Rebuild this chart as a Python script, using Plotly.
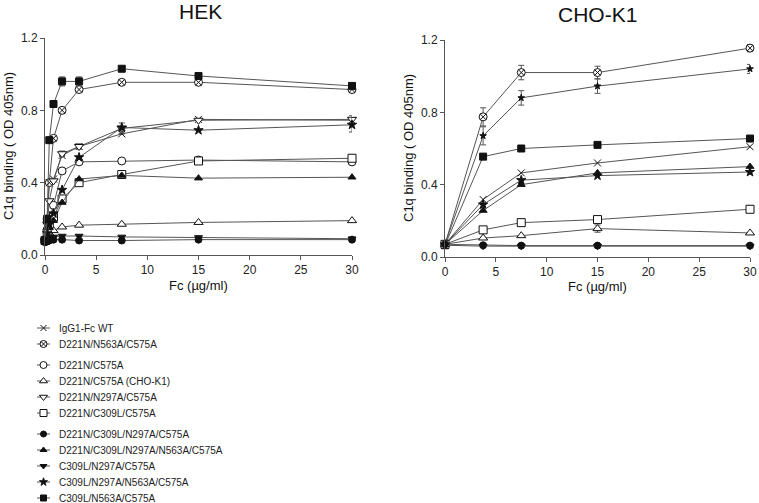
import plotly.graph_objects as go

# ---------------- data ----------------
hek_x = [0, 0.21, 0.42, 0.83, 1.67, 3.33, 7.5, 15, 30]
cho_x = [0, 3.75, 7.5, 15, 30]

labels = [
    "IgG1-Fc WT",
    "D221N/N563A/C575A",
    "D221N/C575A",
    "D221N/C575A (CHO-K1)",
    "D221N/N297A/C575A",
    "D221N/C309L/C575A",
    "D221N/C309L/N297A/C575A",
    "D221N/C309L/N297A/N563A/C575A",
    "C309L/N297A/C575A",
    "C309L/N297A/N563A/C575A",
    "C309L/N563A/C575A",
]
groups = [0, 0, 1, 1, 1, 1, 2, 2, 2, 2, 2]

hek_y = {
    "IgG1-Fc WT": [0.08, 0.19, 0.40, 0.42, 0.55, 0.60, 0.67, 0.75, 0.745],
    "D221N/N563A/C575A": [0.08, 0.20, 0.40, 0.645, 0.80, 0.915, 0.955, 0.955, 0.915],
    "D221N/C575A": [0.08, 0.14, 0.20, 0.275, 0.465, 0.515, 0.52, 0.525, 0.515],
    "D221N/C575A (CHO-K1)": [0.08, 0.10, 0.12, 0.135, 0.155, 0.165, 0.17, 0.18, 0.19],
    "D221N/N297A/C575A": [0.08, 0.17, 0.30, 0.41, 0.56, 0.60, 0.70, 0.745, 0.75],
    "D221N/C309L/C575A": [0.08, 0.12, 0.17, 0.21, 0.31, 0.40, 0.445, 0.52, 0.535],
    "D221N/C309L/N297A/C575A": [0.07, 0.075, 0.08, 0.085, 0.085, 0.08, 0.08, 0.085, 0.085],
    "D221N/C309L/N297A/N563A/C575A": [0.08, 0.11, 0.15, 0.19, 0.29, 0.42, 0.44, 0.425, 0.43],
    "C309L/N297A/C575A": [0.07, 0.09, 0.10, 0.10, 0.105, 0.105, 0.10, 0.097, 0.09],
    "C309L/N297A/N563A/C575A": [0.08, 0.12, 0.17, 0.23, 0.36, 0.54, 0.705, 0.69, 0.72],
    "C309L/N563A/C575A": [0.08, 0.20, 0.635, 0.835, 0.96, 0.96, 1.03, 0.99, 0.935],
}
hek_err = {
    "IgG1-Fc WT": [0, 0, 0, 0, 0, 0, 0, 0, 0.025],
    "D221N/N297A/C575A": [0, 0, 0, 0, 0.015, 0.015, 0, 0, 0],
    "C309L/N297A/N563A/C575A": [0, 0, 0, 0, 0, 0, 0.025, 0, 0.04],
    "C309L/N563A/C575A": [0, 0, 0, 0, 0.025, 0.025, 0, 0, 0],
}

cho_series = [
    # (label, values, errors)
    ("D221N/N563A/C575A", [0.07, 0.775, 1.02, 1.02, 1.155], [0, 0.05, 0.04, 0.035, 0.02]),
    ("C309L/N297A/N563A/C575A (upper)", [0.07, 0.67, 0.88, 0.945, 1.04], [0, 0.05, 0.04, 0.04, 0.025]),
    ("C309L/N563A/C575A", [0.065, 0.555, 0.60, 0.62, 0.655], None),
    ("IgG1-Fc WT", [0.07, 0.318, 0.465, 0.52, 0.61], None),
    ("C309L/N297A/N563A/C575A", [0.07, 0.29, 0.425, 0.45, 0.47], None),
    ("D221N/C309L/N297A/N563A/C575A", [0.07, 0.257, 0.40, 0.465, 0.50], None),
    ("D221N/C309L/C575A", [0.07, 0.15, 0.19, 0.207, 0.264], None),
    ("D221N/C575A (CHO-K1)", [0.07, 0.105, 0.118, 0.157, 0.133], [0, 0, 0, 0.02, 0]),
    ("D221N/C309L/N297A/C575A", [0.07, 0.065, 0.063, 0.063, 0.063], None),
    ("C309L/N297A/C575A", [0.065, 0.06, 0.06, 0.06, 0.06], None),
]

y_ticks = [0.0, 0.4, 0.8, 1.2]
x_ticks = [0, 5, 10, 15, 20, 25, 30]

# ---------------- styles ----------------
WHITE = "white"
BLACK = "#111111"
LINE = "#555555"
style = {
    "IgG1-Fc WT": dict(symbol="x-thin-open", size=7, color=BLACK),
    "D221N/N563A/C575A": dict(symbol="circle-x", size=8, color=WHITE),
    "D221N/C575A": dict(symbol="circle", size=8, color=WHITE),
    "D221N/C575A (CHO-K1)": dict(symbol="triangle-up", size=8, color=WHITE),
    "D221N/N297A/C575A": dict(symbol="triangle-down", size=8, color=WHITE),
    "D221N/C309L/C575A": dict(symbol="square", size=8, color=WHITE),
    "D221N/C309L/N297A/C575A": dict(symbol="circle", size=7, color=BLACK),
    "D221N/C309L/N297A/N563A/C575A": dict(symbol="triangle-up", size=7, color=BLACK),
    "C309L/N297A/C575A": dict(symbol="triangle-down", size=7, color=BLACK),
    "C309L/N297A/N563A/C575A": dict(symbol="star", size=7, color=BLACK),
    "C309L/N563A/C575A": dict(symbol="square", size=7, color=BLACK),
}


def marker_of(lbl, size=None):
    s = style[lbl]
    return dict(symbol=s["symbol"], size=size or s["size"], color=s["color"],
                line=dict(color=BLACK, width=1))


W, H = 759, 503
def px_x(p):
    return p / W
def px_y(p):
    return 1 - p / H

fig = go.Figure()

# HEK
for lbl in labels:
    err = hek_err.get(lbl)
    fig.add_trace(go.Scatter(
        x=hek_x, y=hek_y[lbl], mode="lines+markers", name=lbl,
        line=dict(color=LINE, width=1), marker=marker_of(lbl),
        error_y=dict(type="data", array=err, visible=err is not None,
                     color=LINE, thickness=1, width=3),
        xaxis="x", yaxis="y", showlegend=False, cliponaxis=False))

# CHO-K1
for lbl, vals, err in cho_series:
    base = lbl.replace(" (upper)", "")
    mk = marker_of(base, size=5 if "(upper)" in lbl else None)
    fig.add_trace(go.Scatter(
        x=cho_x, y=vals, mode="lines+markers", name=lbl,
        line=dict(color=LINE, width=1), marker=mk,
        error_y=dict(type="data", array=err, visible=err is not None,
                     color=LINE, thickness=1, width=3),
        xaxis="x2", yaxis="y2", showlegend=False, cliponaxis=False))

# manual legend in its own hidden axis (units = pixels)
leg_rows = [8 + 16 * i + 5 * g for i, g in enumerate(groups)]
for lbl, r in zip(labels, leg_rows):
    fig.add_trace(go.Scatter(x=[37, 50], y=[r, r], mode="lines",
                             line=dict(color=LINE, width=1),
                             xaxis="x3", yaxis="y3", showlegend=False, hoverinfo="skip"))
    fig.add_trace(go.Scatter(x=[43.5], y=[r], mode="markers",
                             marker=marker_of(lbl, size=style[lbl]["size"] - 1),
                             xaxis="x3", yaxis="y3", showlegend=False, hoverinfo="skip"))
    fig.add_annotation(x=57, y=r, xref="x3", yref="y3", text=lbl, showarrow=False,
                       xanchor="left", yanchor="middle",
                       font=dict(size=10, color="#222222"))

axis_common = dict(showgrid=False, zeroline=False, showline=True, linecolor="#555555",
                   linewidth=1, ticks="outside", ticklen=4, tickcolor="#555555",
                   tickfont=dict(size=12, color="#222222"), automargin=False)

fig.update_layout(
    width=W, height=H, margin=dict(l=0, r=0, t=0, b=0),
    paper_bgcolor="white", plot_bgcolor="white",
    font=dict(family="Liberation Sans, Arial, sans-serif", color="#222222"),
    xaxis=dict(domain=[px_x(45), px_x(352)], range=[0, 30], tickvals=x_ticks,
               anchor="y", **axis_common),
    yaxis=dict(domain=[px_y(255), px_y(38)], range=[0, 1.2], tickvals=y_ticks,
               tickformat=".1f", anchor="x", **axis_common),
    xaxis2=dict(domain=[px_x(445), px_x(750)], range=[0, 30], tickvals=x_ticks,
                anchor="y2", **axis_common),
    yaxis2=dict(domain=[px_y(257), px_y(40)], range=[0, 1.2], tickvals=y_ticks,
                tickformat=".1f", anchor="x2", **axis_common),
    xaxis3=dict(domain=[0, px_x(260)], range=[0, 260], visible=False, anchor="y3"),
    yaxis3=dict(domain=[0, px_y(320)], range=[183, 0], visible=False, anchor="x3"),
)

def ann(cx, cy, text, size=13, angle=0):
    fig.add_annotation(x=px_x(cx), y=px_y(cy), xref="paper", yref="paper", text=text,
                       showarrow=False, xanchor="center", yanchor="middle",
                       textangle=angle, font=dict(size=size, color="#111111"))

ann(200, 12, "HEK", size=21)
ann(597, 14, "CHO-K1", size=21)
ann(198, 285, "Fc (µg/ml)")
ann(597, 286, "Fc (µg/ml)")
ann(9, 146, "C1q binding ( OD 405nm)", angle=-90)
ann(408, 148, "C1q binding ( OD 405nm)", angle=-90)

fig.write_html("out.html", config={"displayModeBar": False})

# remove default page margin so the figure sits at the window's top-left corner
with open("out.html", "r", encoding="utf-8") as f:
    html = f.read()
html = html.replace("<head>", "<head><style>html,body{margin:0;padding:0;}</style>", 1)
with open("out.html", "w", encoding="utf-8") as f:
    f.write(html)
